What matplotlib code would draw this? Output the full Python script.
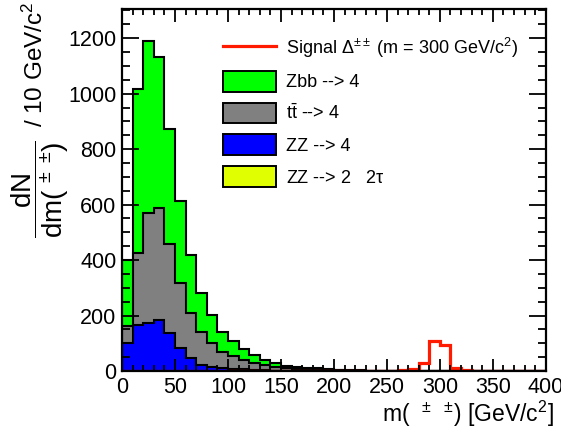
import numpy as np
import matplotlib
matplotlib.use("Agg")
import matplotlib.pyplot as plt
from matplotlib.patches import Patch
from matplotlib.lines import Line2D
from matplotlib.ticker import MultipleLocator

plt.rcParams["font.family"] = ["Liberation Sans", "DejaVu Sans"]
plt.rcParams["mathtext.fontset"] = "custom"
plt.rcParams["mathtext.rm"] = "Liberation Sans"
plt.rcParams["mathtext.it"] = "Liberation Sans:italic"
plt.rcParams["mathtext.default"] = "regular"

# 10 GeV bins from 0 to 400
edges = np.arange(0, 410, 10)

# per-sample contributions (events / 10 GeV)
zz2l2t = [1, 1, 1, 1, 1, 0, 0, 0, 0, 0] + [0] * 30
zz4l = [99, 164, 174, 182, 135, 83, 46, 22, 15, 11, 8, 6, 4, 3, 2, 2, 1, 1, 1, 1] + [0] * 20
ttbar = [63, 260, 396, 405, 321, 235, 165, 120, 85, 59, 46, 34, 24, 19, 14, 10, 8, 6, 4, 3,
         3, 2, 2, 1, 1] + [0] * 15
zbb = [238, 590, 617, 544, 417, 294, 207, 141, 102, 72, 54, 38, 30, 18, 12, 7, 6, 5, 5, 3,
       2, 2, 1, 1, 1] + [0] * 15
signal = [0.5] * 25 + [1, 3, 8, 28, 108, 94, 12, 4, 1] + [0.5] * 6

samples = [
    ("Zbb --> 4", zbb, "#00ff00"),
    (r"t$\bar{t}$ --> 4", ttbar, "#808080"),
    ("ZZ --> 4", zz4l, "#0000ff"),
    (r"ZZ --> 2   2$\tau$", zz2l2t, "#e0ff00"),
]

fig = plt.figure(figsize=(5.61, 4.30), dpi=100)
ax = fig.add_axes([0.2175, 0.137, 0.7555, 0.842])

# stacked: draw cumulative totals, largest first
stack = np.cumsum([np.array(s[1], float) for s in samples[::-1]], axis=0)[::-1]
for (label, _, color), tot in zip(samples, stack):
    ax.stairs(tot, edges, baseline=0, fill=True, facecolor=color,
              edgecolor="black", linewidth=1.5)

ax.stairs(signal, edges, color="#ff1a00", linewidth=2.3)

ax.set_xlim(0, 400)
ax.set_ylim(0, 1305)
ax.xaxis.set_major_locator(MultipleLocator(50))
ax.xaxis.set_minor_locator(MultipleLocator(10))
ax.yaxis.set_major_locator(MultipleLocator(200))
ax.yaxis.set_minor_locator(MultipleLocator(50))
ax.tick_params(which="both", direction="in", top=True, right=True,
               labelsize=15.5, width=1.3, pad=4)
ax.tick_params(axis="x", which="major", length=9)
ax.tick_params(axis="x", which="minor", length=4.5)
ax.tick_params(axis="y", which="major", length=12)
ax.tick_params(axis="y", which="minor", length=5.5)
for sp in ax.spines.values():
    sp.set_linewidth(1.6)

ax.set_xlabel(r"m(  $^{\pm}$  $^{\pm}$) [GeV/c$^2$]", fontsize=16.5, loc="right")
ax.xaxis.set_label_coords(1.02, -0.076)

# y title: ROOT-style fraction followed by the bin width
fig.text(40 / 561, 1 - 189 / 430, r"$\dfrac{dN}{dm(\ ^{\pm}\ ^{\pm})}$",
         rotation=90, ha="center", va="center", fontsize=20)
fig.text(43 / 561, 1 - 2 / 430, r"/ 10 GeV/c$^2$", rotation=90, rotation_mode="anchor",
         ha="right", va="baseline", fontsize=17.5)

handles = [Line2D([], [], color="#ff1a00", linewidth=2.3)]
handles += [Patch(facecolor=c, edgecolor="black", linewidth=1.4) for _, _, c in samples]
labels = [r"Signal $\Delta^{\pm\pm}$ (m = 300 GeV/c$^2$)"] + [s[0] for s in samples]
ax.legend(handles, labels, loc="upper left", bbox_to_anchor=(0.2375, 0.926),
          frameon=False, fontsize=13, handlelength=2.94, handleheight=1.39,
          labelspacing=0.61, handletextpad=0.55, borderpad=0, borderaxespad=0)

fig.savefig("out.png", dpi=100)
